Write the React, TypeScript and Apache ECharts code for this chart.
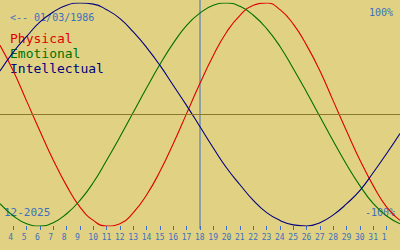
import React, { useEffect, useRef } from "react";
import * as echarts from "echarts";

const days = [3, 4, 5, 6, 7, 8, 9, 10, 11, 12, 13, 14, 15, 16, 17, 18, 19, 20, 21, 22, 23, 24, 25, 26, 27, 28, 29, 30, 31, 32, 33];
const physical = [0.62, 0.39, 0.12, -0.15, -0.41, -0.64, -0.83, -0.95, -1.0, -0.98, -0.88, -0.72, -0.51, -0.26, 0.01, 0.28, 0.53, 0.74, 0.89, 0.98, 1.0, 0.94, 0.81, 0.62, 0.39, 0.12, -0.15, -0.41, -0.64, -0.83, -0.95];
const emotional = [-0.8, -0.91, -0.98, -1.0, -0.97, -0.89, -0.77, -0.61, -0.41, -0.2, 0.02, 0.24, 0.45, 0.64, 0.8, 0.91, 0.98, 1.0, 0.97, 0.89, 0.77, 0.61, 0.41, 0.2, -0.02, -0.24, -0.45, -0.64, -0.8, -0.91, -0.98];
const intellectual = [0.39, 0.56, 0.7, 0.83, 0.92, 0.98, 1.0, 0.99, 0.94, 0.86, 0.74, 0.6, 0.44, 0.26, 0.08, -0.11, -0.3, -0.48, -0.63, -0.77, -0.88, -0.95, -0.99, -1.0, -0.97, -0.9, -0.8, -0.68, -0.52, -0.35, -0.17];
const tickDays = [4, 5, 6, 7, 8, 9, 10, 11, 12, 13, 14, 15, 16, 17, 18, 19, 20, 21, 22, 23, 24, 25, 26, 27, 28, 29, 30, 31, 32];
const tickLabels = ["4", "5", "6", "7", "8", "9", "10", "11", "12", "13", "14", "15", "16", "17", "18", "19", "20", "21", "22", "23", "24", "25", "26", "27", "28", "29", "30", "31", "1"];
const selectedDay = 18;
const seriesNames = ["Physical", "Emotional", "Intellectual"];
const birthText = "<-- 01/03/1986";
const monthText = "12-2025";
const topPct = "100%";
const bottomPct = "-100%";

const BG = "#e0d282";
const BLUE = "#3d6fc0";
const COLORS = ["#e00000", "#007000", "#000080"];
const MONO = "'DejaVu Sans Mono', 'Liberation Mono', monospace";

export default function App() {
  const ref = useRef<HTMLDivElement>(null);
  useEffect(() => {
    if (!ref.current) return;
    const chart = echarts.init(ref.current, null, { renderer: "svg" });
    const toPairs = (vals: number[]) => days.map((d, i) => [d, vals[i]]);
    const seriesData = [physical, emotional, intellectual];
    chart.setOption({
      animation: false,
      backgroundColor: BG,
      grid: { left: 0, right: 0, top: 3, bottom: 24 },
      xAxis: {
        type: "value",
        min: 3,
        max: 33,
        interval: 1,
        axisLine: { show: false, onZero: false },
        splitLine: { show: false },
        axisTick: {
          show: true,
          customValues: tickDays,
          length: 4,
          lineStyle: { color: BLUE, width: 1 },
        },
        axisLabel: {
          customValues: tickDays,
          margin: 7,
          formatter: (v: number) => {
            const i = tickDays.indexOf(v);
            return i >= 0 ? "{a|" + tickLabels[i] + "}" : "";
          },
          rich: {
            a: { width: 10, align: "left", fontSize: 8, fontFamily: MONO, color: BLUE },
          },
        },
      },
      yAxis: {
        type: "value",
        min: -1,
        max: 1,
        show: false,
        splitLine: { show: false },
      },
      series: seriesData.map((vals, i) => ({
        name: seriesNames[i],
        type: "line",
        data: toPairs(vals),
        smooth: true,
        showSymbol: false,
        lineStyle: { color: COLORS[i], width: 1.1 },
        markLine:
          i === 0
            ? {
                silent: true,
                symbol: "none",
                label: { show: false },
                lineStyle: { color: "#8c7828", type: "solid", width: 1 },
                data: [{ yAxis: 0 }],
              }
            : undefined,
      })),
    });
    const vx = chart.convertToPixel({ xAxisIndex: 0 }, selectedDay) as number;
    chart.setOption({
      graphic: [
        { type: "line", shape: { x1: vx, y1: 0, x2: vx, y2: 229 }, style: { stroke: BLUE, lineWidth: 1 } },
        { type: "text", x: 10, y: 17, style: { text: birthText, fontFamily: MONO, fontSize: 10, fill: BLUE, verticalAlign: "middle" } },
        ...seriesNames.map((n, i) => ({
          type: "text",
          x: 10,
          y: 38 + i * 15,
          style: { text: n, fontFamily: MONO, fontSize: 13, fill: COLORS[i], verticalAlign: "middle" },
        })),
        { type: "text", x: 393, y: 12, style: { text: topPct, fontFamily: MONO, fontSize: 10, fill: BLUE, align: "right", verticalAlign: "middle" } },
        { type: "text", x: 395, y: 212, style: { text: bottomPct, fontFamily: MONO, fontSize: 10, fill: BLUE, align: "right", verticalAlign: "middle" } },
        { type: "text", x: 4, y: 212, style: { text: monthText, fontFamily: MONO, fontSize: 11, fill: BLUE, verticalAlign: "middle" } },
      ],
    });
    return () => chart.dispose();
  }, []);
  return <div ref={ref} style={{ width: 400, height: 250, position: "absolute", left: 0, top: 0 }} />;
}
